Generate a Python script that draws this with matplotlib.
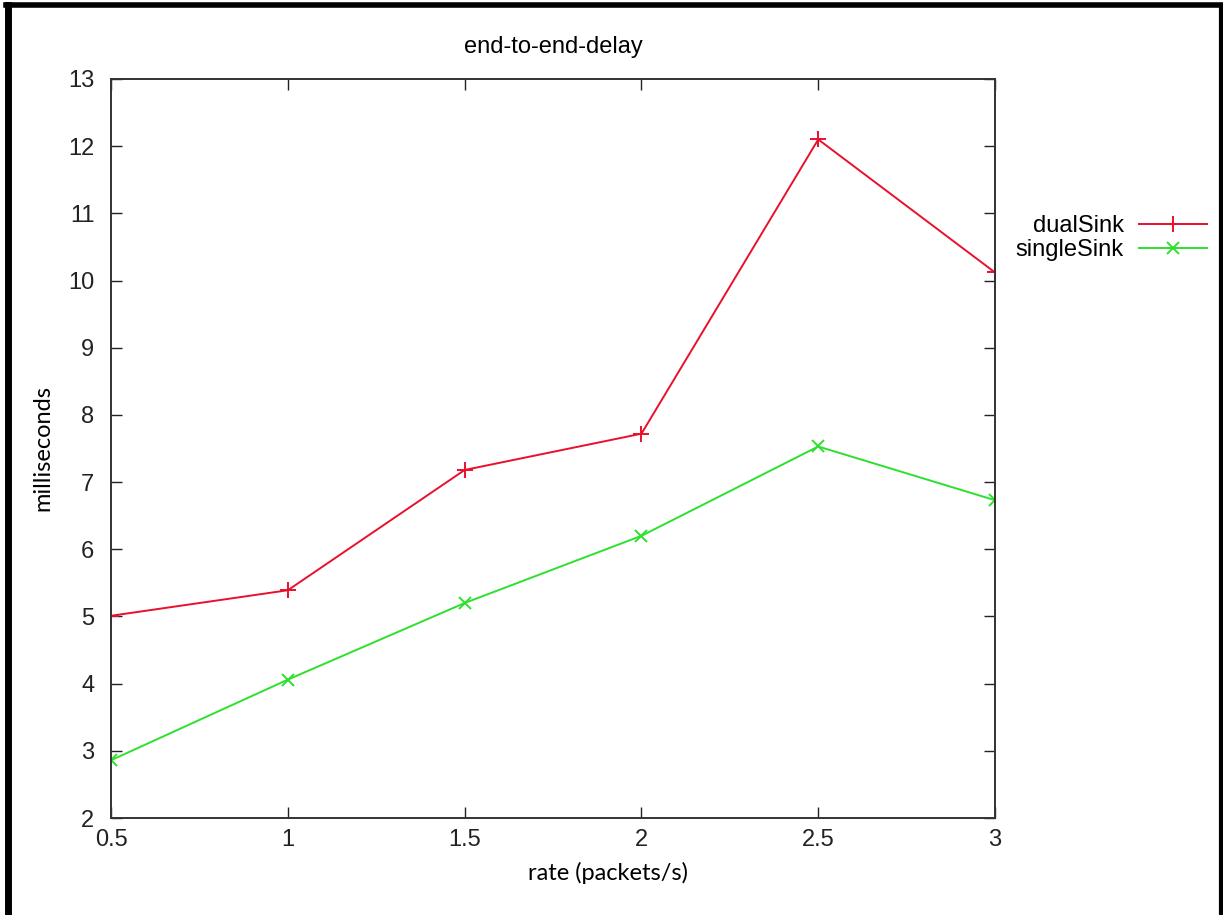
import matplotlib.pyplot as plt
from matplotlib.lines import Line2D

plt.rcParams['font.family'] = ['Liberation Sans', 'DejaVu Sans']

# data
rate = [0.5, 1, 1.5, 2, 2.5, 3]
dual_sink = [5.01, 5.39, 7.18, 7.72, 12.1, 10.12]
single_sink = [2.86, 4.06, 5.2, 6.2, 7.53, 6.73]
xticks = [0.5, 1, 1.5, 2, 2.5, 3]
xticklabels = ['0.5', '1', '1.5', '2', '2.5', '3']
yticks = list(range(2, 14))

fig = plt.figure(figsize=(12.23, 9.15), dpi=100)
ax = fig.add_axes([0.0908, 0.106, 0.7228, 0.8077])

red = '#e8102c'
green = '#2ee02e'
ax.plot(rate, dual_sink, color=red, lw=1.4, marker='+', ms=11, mew=1.4, label='dualSink')
ax.plot(rate, single_sink, color=green, lw=1.4, marker='x', ms=8, mew=1.4, label='singleSink')

ax.set_xlim(0.5, 3)
ax.set_ylim(2, 13)
ax.set_xticks(xticks)
ax.set_xticklabels(xticklabels)
ax.set_yticks(yticks)
ax.tick_params(direction='in', length=8, width=1, labelsize=17, top=True, right=True,
               labeltop=False, labelright=False, pad=8, colors='#222222')
ax.tick_params(axis='y', pad=12)
for s in ax.spines.values():
    s.set_linewidth(1.4)
    s.set_color('#333333')

ax.set_title('end-to-end-delay', fontsize=17, pad=19)
ax.set_xlabel('rate (packets/s)', fontsize=17, family=['Lato', 'DejaVu Sans'])
ax.xaxis.set_label_coords(0.562, -0.06)
ax.set_ylabel('milliseconds', fontsize=17, family=['Lato', 'DejaVu Sans'])
ax.yaxis.set_label_coords(-0.0656, 0.5)

leg = fig.legend(handles=ax.get_lines(), loc='upper right', bbox_to_anchor=(0.987, 0.765),
                 frameon=False, fontsize=17, markerfirst=False, handlelength=2.9,
                 handletextpad=0.62, labelspacing=0.1, borderpad=0, borderaxespad=0)

# outer black frame around the picture
fig.add_artist(Line2D([0.0065, 0.0065], [0, 0.995], color='black', lw=5, transform=fig.transFigure))
fig.add_artist(Line2D([0.0045, 0.998], [0.994, 0.994], color='black', lw=4, transform=fig.transFigure))
fig.add_artist(Line2D([0.9985, 0.9985], [0, 0.995], color='black', lw=3, transform=fig.transFigure))

fig.savefig('out.png', dpi=100)
